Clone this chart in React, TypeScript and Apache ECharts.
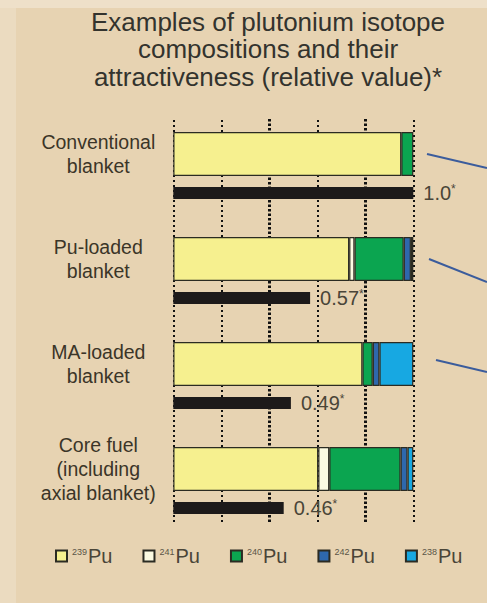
import React, { useEffect, useRef } from "react";
import * as echarts from "echarts";

const categories = [
  "Conventional\nblanket",
  "Pu-loaded\nblanket",
  "MA-loaded\nblanket",
  "Core fuel\n(including\naxial blanket)",
];
const isotopeNames = ["239Pu", "241Pu", "240Pu", "242Pu", "238Pu"];
const isotopeColors = ["#f6f08f", "#fcfbe2", "#0ba550", "#2e68ad", "#17a8e2"];
const pu239 = [95, 73.3, 78.8, 60.4];
const pu241 = [0, 2.2, 0, 4.6];
const pu240 = [5, 20.5, 4.3, 29.7];
const pu242 = [0, 3.0, 2.8, 2.9];
const pu238 = [0, 1.0, 14.1, 2.4];
const attractiveness = [1.0, 0.57, 0.49, 0.46];
const attractLabels = ["1.0", "0.57", "0.49", "0.46"];
const gridTicks = [0, 20, 40, 60, 80, 100];
const thickTicks = [40, 80];

const FONT = '"Liberation Sans", Arial, sans-serif';

export default function App() {
  const ref = useRef<HTMLDivElement>(null);
  useEffect(() => {
    if (!ref.current) return;
    const chart = echarts.init(ref.current, undefined, { renderer: "svg" });
    const comps = [pu239, pu241, pu240, pu242, pu238];
    const gridLeft = 173.3;
    const gridWidth = 240;
    const compSeries = isotopeNames.map((name, i) => ({
      name,
      type: "bar",
      stack: "comp",
      xAxisIndex: 0,
      yAxisIndex: 0,
      barWidth: 44,
      z: 3,
      data: comps[i].map((v) => (v === 0 ? "-" : v)),
      itemStyle: { color: isotopeColors[i], borderColor: "#2b2b22", borderWidth: 1.2 },
    }));
    const option: any = {
      animation: false,
      backgroundColor: "#e7d3b2",
      textStyle: { fontFamily: FONT },
      graphic: [
        { type: "rect", shape: { x: 0, y: 0, width: 487, height: 8 }, style: { fill: "rgba(255,255,255,0.3)" }, silent: true, z: -1 },
        { type: "rect", shape: { x: 0, y: 8, width: 16, height: 595 }, style: { fill: "rgba(255,255,255,0.18)" }, silent: true, z: -1 },
        {
          type: "text",
          x: 268,
          y: 8,
          style: {
            text: "Examples of plutonium isotope\ncompositions and their\nattractiveness (relative value)*",
            font: `26px ${FONT}`,
            lineHeight: 27.5,
            textAlign: "center",
            textVerticalAlign: "top",
            fill: "#33332e",
          },
        },
        { type: "line", shape: { x1: 427, y1: 154, x2: 487, y2: 168 }, style: { stroke: "#3b5c9c", lineWidth: 2 } },
        { type: "line", shape: { x1: 429, y1: 259, x2: 487, y2: 282 }, style: { stroke: "#3b5c9c", lineWidth: 2 } },
        { type: "line", shape: { x1: 436, y1: 360, x2: 487, y2: 372 }, style: { stroke: "#3b5c9c", lineWidth: 2 } },
      ],
      legend: {
        data: isotopeNames,
        left: 55,
        top: 546,
        padding: 0,
        itemWidth: 11,
        itemHeight: 11,
        itemGap: 30,
        icon: "rect",
        formatter: (name: string) => `{s|${name.slice(0, 3)}}{p|Pu}`,
        textStyle: {
          rich: {
            s: { fontSize: 9, color: "#5a5446", fontFamily: FONT, padding: [0, 1, 9, 0] },
            p: { fontSize: 20, color: "#4a4538", fontFamily: FONT },
          },
        },
      },
      grid: [
        { left: gridLeft, width: gridWidth, top: 101.5, height: 420 },
        { left: gridLeft, width: gridWidth, top: 140.5, height: 420 },
        { left: gridLeft, width: gridWidth, top: 118, height: 404 },
      ],
      xAxis: [
        { type: "value", gridIndex: 0, min: 0, max: 100, show: false, splitLine: { show: false } },
        { type: "value", gridIndex: 1, min: 0, max: 1, show: false, splitLine: { show: false } },
        { type: "value", gridIndex: 2, min: 0, max: 100, show: false, splitLine: { show: false } },
      ],
      yAxis: [
        {
          type: "category",
          gridIndex: 0,
          data: categories,
          inverse: true,
          axisLine: { show: false },
          axisTick: { show: false },
          splitLine: { show: false },
          axisLabel: {
            align: "center",
            margin: 75,
            fontSize: 19.5,
            lineHeight: 24,
            color: "#3b3528",
            fontFamily: FONT,
          },
        },
        { type: "category", gridIndex: 1, data: categories, inverse: true, show: false },
        { type: "value", gridIndex: 2, min: 0, max: 1, show: false, splitLine: { show: false } },
      ],
      series: [
        {
          type: "bar",
          xAxisIndex: 2,
          yAxisIndex: 2,
          data: [],
          z: 1,
          silent: true,
          markLine: {
            silent: true,
            z: 1,
            symbol: "none",
            label: { show: false },
            data: gridTicks.map((t) => ({
              xAxis: t,
              lineStyle: thickTicks.includes(t)
                ? { color: "#111", width: 3, type: [2.5, 2] }
                : { color: "#111", width: 2, type: [2, 3] },
            })),
          },
        },
        ...compSeries,
        {
          name: "attractiveness",
          type: "bar",
          xAxisIndex: 1,
          yAxisIndex: 1,
          barWidth: 12,
          z: 3,
          data: attractiveness,
          itemStyle: { color: "#1d1a1a" },
          label: {
            show: true,
            position: "right",
            distance: 10,
            formatter: (p: any) => `{v|${attractLabels[p.dataIndex]}}{s|*}`,
            rich: {
              v: { fontSize: 20, color: "#4a4538", fontFamily: FONT },
              s: { fontSize: 12, color: "#4a4538", fontFamily: FONT, padding: [0, 0, 9, 0] },
            },
          },
        },
      ],
    };
    chart.setOption(option);
    return () => chart.dispose();
  }, []);
  return (
    <div
      ref={ref}
      style={{ position: "fixed", left: 0, top: 0, width: 487, height: 603 }}
    />
  );
}
